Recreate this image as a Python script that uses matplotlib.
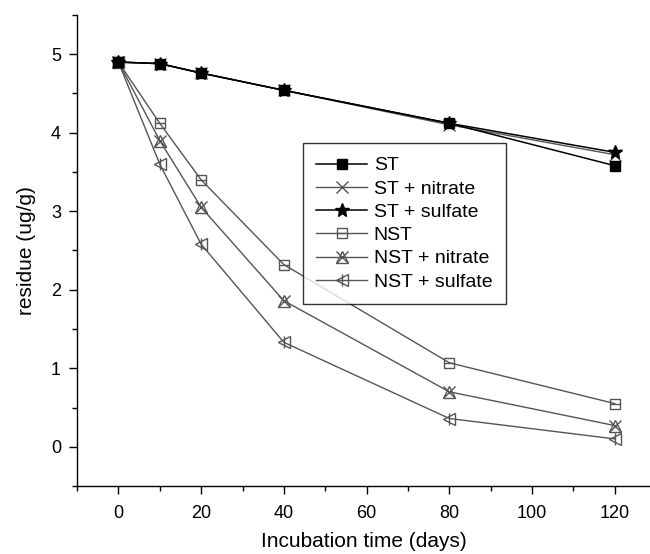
import matplotlib
matplotlib.use("Agg")
import matplotlib.pyplot as plt
from matplotlib.legend_handler import HandlerTuple
from matplotlib.ticker import MultipleLocator

plt.rcParams['font.family'] = ['Liberation Sans', 'DejaVu Sans']

days = [0, 10, 20, 40, 80, 120]
st = [4.90, 4.88, 4.76, 4.54, 4.12, 3.58]
st_nitrate = [4.90, 4.88, 4.76, 4.54, 4.10, 3.72]
st_sulfate = [4.90, 4.88, 4.76, 4.54, 4.12, 3.75]
nst = [4.90, 4.12, 3.40, 2.32, 1.07, 0.55]
nst_nitrate = [4.90, 3.90, 3.05, 1.86, 0.70, 0.27]
nst_sulfate = [4.90, 3.60, 2.58, 1.33, 0.36, 0.10]

fig = plt.figure(figsize=(6.5, 5.54), dpi=100)
ax = fig.add_axes([0.1185, 0.1227, 0.8815, 0.8503])

gray = '#555555'
ms = 7

h1, = ax.plot(days, st, color='black', lw=1.1, marker='s', ms=ms, mfc='black', mec='black', zorder=5)
h2, = ax.plot(days, st_nitrate, color=gray, lw=1.0, marker='x', ms=ms + 1, mec=gray, mew=1.0, zorder=4)
h3, = ax.plot(days, st_sulfate, color='black', lw=1.1, marker='*', ms=ms + 3, mfc='black', mec='black', zorder=6)
h4, = ax.plot(days, nst, color=gray, lw=1.0, marker='s', ms=ms, mfc='none', mec=gray, mew=1.0, zorder=3)
h4b, = ax.plot(days, nst, color=gray, lw=0, marker='_', ms=ms, mec=gray, mew=1.0, zorder=3)
h5, = ax.plot(days, nst_nitrate, color=gray, lw=1.0, marker='^', ms=ms + 1, mfc='none', mec=gray, mew=1.0, zorder=3)
h5b, = ax.plot(days, nst_nitrate, color=gray, lw=0, marker='x', ms=ms + 1, mec=gray, mew=1.0, zorder=3)
h6, = ax.plot(days, nst_sulfate, color=gray, lw=1.0, marker='<', ms=ms + 1, mfc='none', mec=gray, mew=1.0, zorder=3)
h6b, = ax.plot(days, nst_sulfate, color=gray, lw=0, marker='|', ms=ms + 1, mec=gray, mew=1.0, zorder=3)

ax.set_xlim(-10, 128.5)
ax.set_ylim(-0.5, 5.5)
ax.xaxis.set_major_locator(MultipleLocator(20))
ax.xaxis.set_minor_locator(MultipleLocator(10))
ax.yaxis.set_major_locator(MultipleLocator(1))
ax.yaxis.set_minor_locator(MultipleLocator(0.5))
for s in ['top', 'right']:
    ax.spines[s].set_visible(False)
for s in ['left', 'bottom']:
    ax.spines[s].set_linewidth(1.0)
ax.tick_params(which='major', direction='out', length=6, width=1.0, labelsize=13, colors='black')
ax.tick_params(axis='x', which='major', pad=8)
ax.tick_params(axis='y', which='major', pad=5.5)
ax.tick_params(which='minor', direction='out', length=3.5, width=1.0)
ax.set_xlabel('Incubation time (days)', fontsize=15, labelpad=7)
ax.set_ylabel('residue (ug/g)', fontsize=15, labelpad=11)

leg = ax.legend([h1, h2, h3, (h4, h4b), (h5, h5b), (h6, h6b)],
                ['ST', 'ST + nitrate', 'ST + sulfate', 'NST', 'NST + nitrate', 'NST + sulfate'],
                handler_map={tuple: HandlerTuple(ndivide=1, pad=0)},
                loc='upper left', bbox_to_anchor=(0.394, 0.728), borderaxespad=0,
                fontsize=14, frameon=True, fancybox=False, edgecolor='black',
                handlelength=2.6, labelspacing=0.29, borderpad=0.7, handletextpad=0.35)
leg.get_frame().set_linewidth(1.0)

fig.savefig('out.png', dpi=100)
